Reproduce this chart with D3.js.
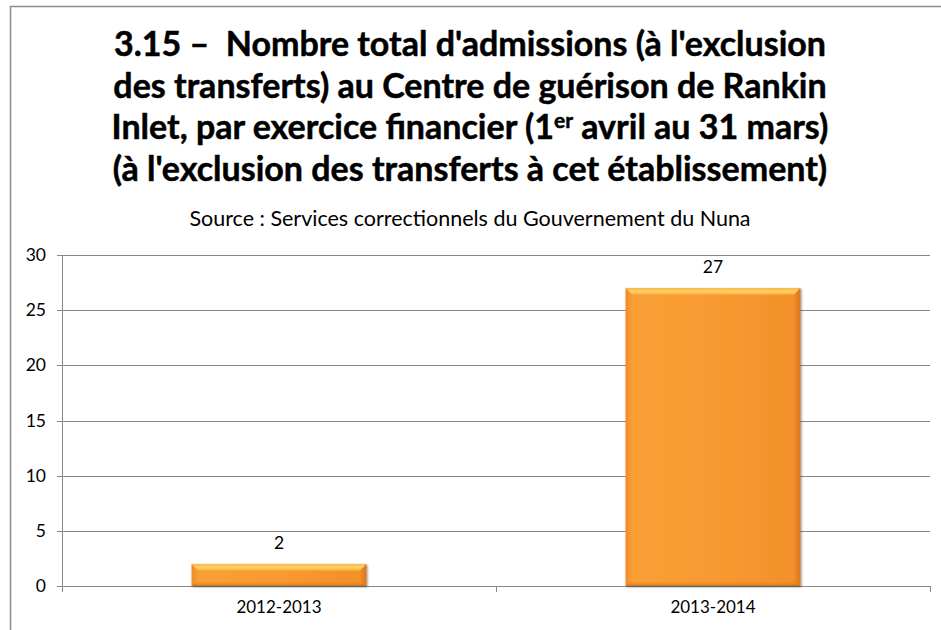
<!DOCTYPE html>
<html>
<head>
<meta charset="utf-8">
<script src="https://cdn.jsdelivr.net/npm/d3@7"></script>
<style>
  body { margin: 0; background: #fff; }
  text { font-family: Lato, "Open Sans", sans-serif; }
</style>
</head>
<body>
<div id="chart"></div>
<script>
// values
var categories = ["2012-2013", "2013-2014"];
var admissions = [2, 27];
var yTicks = [0, 5, 10, 15, 20, 25, 30];

var titleLines = [
    [{t: "3.15 \u2013  Nombre total d'admissions (\u00e0 l'exclusion"}],
    [{t: "des transferts) au Centre de gu\u00e9rison de Rankin"}],
    [{t: "Inlet, par exercice financier (1"}, {t: "er", sup: true}, {t: " avril au 31 mars)"}],
    [{t: "(\u00e0 l'exclusion des transferts \u00e0 cet \u00e9tablissement)"}]
];
var subtitle = "Source : Services correctionnels du Gouvernement du Nuna";

var width = 941, height = 630;
var margin = {top: 255, right: 11, bottom: 44, left: 62};

var svg = d3.select("#chart").append("svg")
    .attr("width", width)
    .attr("height", height);

var defs = svg.append("defs");
var grad = defs.append("linearGradient").attr("id", "barGrad")
    .attr("x1", 0).attr("x2", 1).attr("y1", 0).attr("y2", 0);
grad.append("stop").attr("offset", "0%").attr("stop-color", "#f28a25");
grad.append("stop").attr("offset", "4%").attr("stop-color", "#f9a035");
grad.append("stop").attr("offset", "50%").attr("stop-color", "#f89a30");
grad.append("stop").attr("offset", "96%").attr("stop-color", "#f3902a");
grad.append("stop").attr("offset", "100%").attr("stop-color", "#d8771e");

var topGrad = defs.append("linearGradient").attr("id", "topGrad")
    .attr("x1", 0).attr("x2", 0).attr("y1", 0).attr("y2", 1);
topGrad.append("stop").attr("offset", "0%").attr("stop-color", "#fbb552");
topGrad.append("stop").attr("offset", "55%").attr("stop-color", "#ffd462");
topGrad.append("stop").attr("offset", "100%").attr("stop-color", "#f9a035");

var botGrad = defs.append("linearGradient").attr("id", "botGrad")
    .attr("x1", 0).attr("x2", 0).attr("y1", 0).attr("y2", 1);
botGrad.append("stop").attr("offset", "0%").attr("stop-color", "#f0892a").attr("stop-opacity", 0);
botGrad.append("stop").attr("offset", "100%").attr("stop-color", "#c96d1c");

var shadow = defs.append("filter").attr("id", "shadow")
    .attr("x", "-10%").attr("y", "-10%").attr("width", "120%").attr("height", "130%");
shadow.append("feDropShadow").attr("dx", 1).attr("dy", 1).attr("stdDeviation", 1.2)
    .attr("flood-color", "#000").attr("flood-opacity", 0.45);

// chart area frame (cropped at right/bottom)
svg.append("rect")
    .attr("x", 10.5).attr("y", 6.5)
    .attr("width", width + 20).attr("height", height + 20)
    .attr("fill", "none").attr("stroke", "#8c8c8c").attr("stroke-width", 1.5);

// title
var title = svg.append("text")
    .attr("text-anchor", "middle")
    .style("font-weight", "bold")
    .style("font-size", "34px")
    .style("white-space", "pre")
    .attr("fill", "#000")
    .attr("stroke", "#000")
    .attr("stroke-width", 0.5);
titleLines.forEach(function (parts, i) {
    var line = title.append("tspan").attr("x", 470).attr("y", 56 + i * 41.5);
    parts.forEach(function (p, j) {
        var s = line.append("tspan").text(p.t);
        if (p.sup) s.attr("dy", -11).style("font-size", "21px");
        else if (j > 0) s.attr("dy", 11);
    });
});

svg.append("text")
    .attr("x", 470).attr("y", 226)
    .attr("text-anchor", "middle")
    .style("font-size", "21.5px")
    .attr("fill", "#000")
    .text(subtitle);

var plotW = width - margin.left - margin.right;
var y0 = 586;

var x = d3.scaleBand()
    .domain(categories)
    .range([margin.left, margin.left + plotW])
    .paddingInner(0.597)
    .paddingOuter(0.2985);

var y = d3.scaleLinear()
    .domain([0, 30])
    .range([y0, margin.top]);

// gridlines
svg.append("g")
    .selectAll("line")
    .data(yTicks)
    .enter()
    .append("line")
    .attr("x1", margin.left - 5)
    .attr("x2", margin.left + plotW)
    .attr("y1", function (d) { return Math.round(y(d)) + 0.5; })
    .attr("y2", function (d) { return Math.round(y(d)) + 0.5; })
    .attr("stroke", "#878787")
    .attr("stroke-width", 1);

// y axis line
svg.append("line")
    .attr("x1", margin.left + 0.5).attr("x2", margin.left + 0.5)
    .attr("y1", Math.round(y(30))).attr("y2", y0 + 5)
    .attr("stroke", "#878787");

// x axis ticks at band edges
var edges = [margin.left, margin.left + plotW / 2, margin.left + plotW];
svg.append("g")
    .selectAll("line")
    .data(edges)
    .enter()
    .append("line")
    .attr("x1", function (d) { return Math.round(d) + 0.5; })
    .attr("x2", function (d) { return Math.round(d) + 0.5; })
    .attr("y1", y0).attr("y2", y0 + 6)
    .attr("stroke", "#878787");

// y tick labels
svg.append("g")
    .selectAll("text")
    .data(yTicks)
    .enter()
    .append("text")
    .attr("x", 46)
    .attr("y", function (d) { return y(d) + 6; })
    .attr("text-anchor", "end")
    .style("font-size", "17.5px")
    .text(function (d) { return d; });

// category labels
svg.append("g")
    .selectAll("text")
    .data(categories)
    .enter()
    .append("text")
    .attr("x", function (d) { return x(d) + x.bandwidth() / 2; })
    .attr("y", 613)
    .attr("text-anchor", "middle")
    .style("font-size", "17px")
    .text(function (d) { return d; });

// bars
var bars = svg.append("g")
    .selectAll("g")
    .data(admissions)
    .enter()
    .append("g");

bars.append("rect")
    .attr("x", function (d, i) { return x(categories[i]); })
    .attr("y", function (d) { return y(d); })
    .attr("width", x.bandwidth())
    .attr("height", function (d) { return y0 - y(d); })
    .attr("fill", "url(#barGrad)")
    .attr("filter", "url(#shadow)");

// top bevel
bars.append("path")
    .attr("d", function (d, i) {
        var bx = x(categories[i]), by = y(d), w = x.bandwidth(), b = 7;
        return "M" + bx + "," + by + "h" + w + "l" + (-b) + "," + b + "h" + (-(w - 2 * b)) + "z";
    })
    .attr("fill", "url(#topGrad)");

// bottom shading
bars.append("path")
    .attr("d", function (d, i) {
        var bx = x(categories[i]), w = x.bandwidth(), b = 5;
        return "M" + bx + "," + y0 + "h" + w + "l" + (-b) + "," + (-b) + "h" + (-(w - 2 * b)) + "z";
    })
    .attr("fill", "url(#botGrad)")
    .attr("opacity", 0.8);

// value labels
bars.append("text")
    .attr("x", function (d, i) { return x(categories[i]) + x.bandwidth() / 2; })
    .attr("y", function (d) { return y(d) - 15; })
    .attr("text-anchor", "middle")
    .style("font-size", "17.5px")
    .text(function (d) { return d; });
</script>
</body>
</html>
